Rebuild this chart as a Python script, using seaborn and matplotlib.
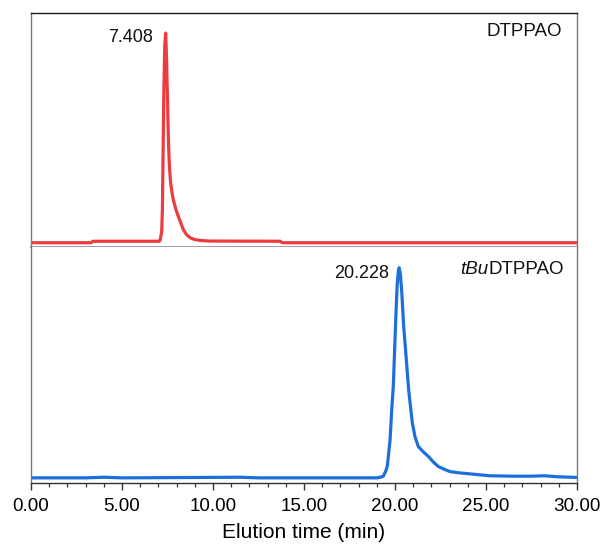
import matplotlib
matplotlib.use("Agg")
import matplotlib.pyplot as plt
from matplotlib.ticker import MultipleLocator, FormatStrFormatter
import seaborn as sns
import pandas as pd

# GPC traces, normalised intensity (%) vs elution time (min)
dtppao_time = [0.0, 3.3, 3.4, 6.9, 7.05, 7.1, 7.18, 7.22, 7.26, 7.3, 7.35, 7.40,
               7.45, 7.5, 7.55, 7.6, 7.67, 7.75, 7.82, 7.95, 8.1, 8.25, 8.37,
               8.55, 8.74, 9.0, 9.3, 9.8, 13.7, 13.8, 30.0]
dtppao_signal = [0.0, 0.0, 0.7, 0.7, 0.7, 1.4, 5.2, 15.7, 44.3, 72.9, 94.3, 100.0,
                 87.1, 68.1, 49.0, 37.1, 28.6, 23.8, 20.5, 16.2, 12.4, 9.0, 6.2,
                 3.8, 2.4, 1.5, 1.1, 0.8, 0.7, 0.0, 0.0]

tbu_time = [0.0, 3.0, 4.0, 5.0, 11.5, 12.5, 19.0, 19.2, 19.36, 19.5, 19.58,
            19.66, 19.73, 19.82, 19.91, 19.98, 20.05, 20.12, 20.18, 20.23,
            20.3, 20.38, 20.47, 20.58, 20.75, 20.95, 21.1, 21.28, 21.55, 21.83,
            22.1, 22.38, 22.7, 23.02, 23.5, 24.12, 25.2, 26.5, 27.5, 28.2,
            29.0, 30.0]
tbu_signal = [0.2, 0.2, 0.5, 0.2, 0.5, 0.2, 0.2, 0.5, 1.0, 3.6, 5.9,
              12.6, 18.3, 32.5, 44.4, 61.0, 77.7, 91.9, 98.1, 100.0,
              96.7, 87.2, 72.9, 61.0, 42.0, 26.4, 19.7, 15.1, 12.6, 10.4,
              7.8, 5.6, 4.3, 3.2, 2.6, 2.1, 1.2, 1.0, 1.0, 1.2,
              0.7, 0.4]

peak_labels = ["7.408", "20.228"]
sample_names = ["DTPPAO", "DTPPAO"]
sample_prefix = ["", "tBu"]
xticks = [0, 5, 10, 15, 20, 25, 30]

sns.set_theme(style="white")
plt.rcParams["font.family"] = ["Liberation Sans", "DejaVu Sans"]

red = "#EE3B3F"
blue = "#1E6FDB"
frame_grey = "#7a7a7a"

fig = plt.figure(figsize=(6.05, 5.44), dpi=100)
ax_top = fig.add_axes([31 / 605, 1 - 246.5 / 544, 546 / 605, 234 / 544])
ax_bot = fig.add_axes([31 / 605, 1 - 482.5 / 544, 546 / 605, 236 / 544], sharex=ax_top)

df_top = pd.DataFrame({"time": dtppao_time, "signal": dtppao_signal})
df_bot = pd.DataFrame({"time": tbu_time, "signal": tbu_signal})

sns.lineplot(data=df_top, x="time", y="signal", ax=ax_top, color=red,
             linewidth=2.3, solid_joinstyle="round", solid_capstyle="round")
sns.lineplot(data=df_bot, x="time", y="signal", ax=ax_bot, color=blue,
             linewidth=2.3, solid_joinstyle="round", solid_capstyle="round")

ax_top.set_xlim(0, 30)
ax_top.set_ylim(-1.8, 109.8)
ax_bot.set_ylim(-2.0, 110.1)

for ax in (ax_top, ax_bot):
    ax.set_ylabel("")
    ax.set_yticks([])
    ax.set_xlabel("")
    for side in ("left", "right"):
        ax.spines[side].set_color(frame_grey)
        ax.spines[side].set_linewidth(1.0)

# top panel frame
ax_top.spines["top"].set_color("#1a1a1a")
ax_top.spines["top"].set_linewidth(1.0)
ax_top.spines["bottom"].set_color("#8c8c8c")
ax_top.spines["bottom"].set_linewidth(1.2)
ax_top.tick_params(axis="x", bottom=False, labelbottom=False)

# bottom panel frame
ax_bot.spines["top"].set_visible(False)
ax_bot.spines["bottom"].set_color("#333333")
ax_bot.spines["bottom"].set_linewidth(1.0)
ax_bot.set_xticks(xticks)
ax_bot.xaxis.set_major_formatter(FormatStrFormatter("%.2f"))
ax_bot.xaxis.set_minor_locator(MultipleLocator(1))
ax_bot.tick_params(axis="x", which="major", bottom=True, direction="out",
                   length=5, width=1.0, color="#333333", labelsize=13.6,
                   pad=6, labelcolor="#000000")
ax_bot.tick_params(axis="x", which="minor", bottom=True, direction="out",
                   length=2.6, width=0.9, color="#333333")
ax_bot.set_xlabel("Elution time (min)", fontsize=15, labelpad=6, color="#000000")

# peak labels
ax_top.text(6.7, 98.1, peak_labels[0], ha="right", va="center", fontsize=13,
            color="#111111")
ax_bot.text(19.67, 97.1, peak_labels[1], ha="right", va="center", fontsize=13,
            color="#111111")

# sample names
ax_top.text(29.2, 100.7, sample_names[0], ha="right", va="center",
            fontsize=13.5, color="#111111")
name_txt = ax_bot.text(29.3, 99.0, sample_names[1], ha="right", va="center",
                       fontsize=13.5, color="#111111")
ax_bot.annotate(sample_prefix[1], xy=(0, 0), xycoords=name_txt,
                ha="right", va="bottom", fontsize=13.5, style="italic",
                color="#111111")

fig.savefig("out.png", dpi=100)
